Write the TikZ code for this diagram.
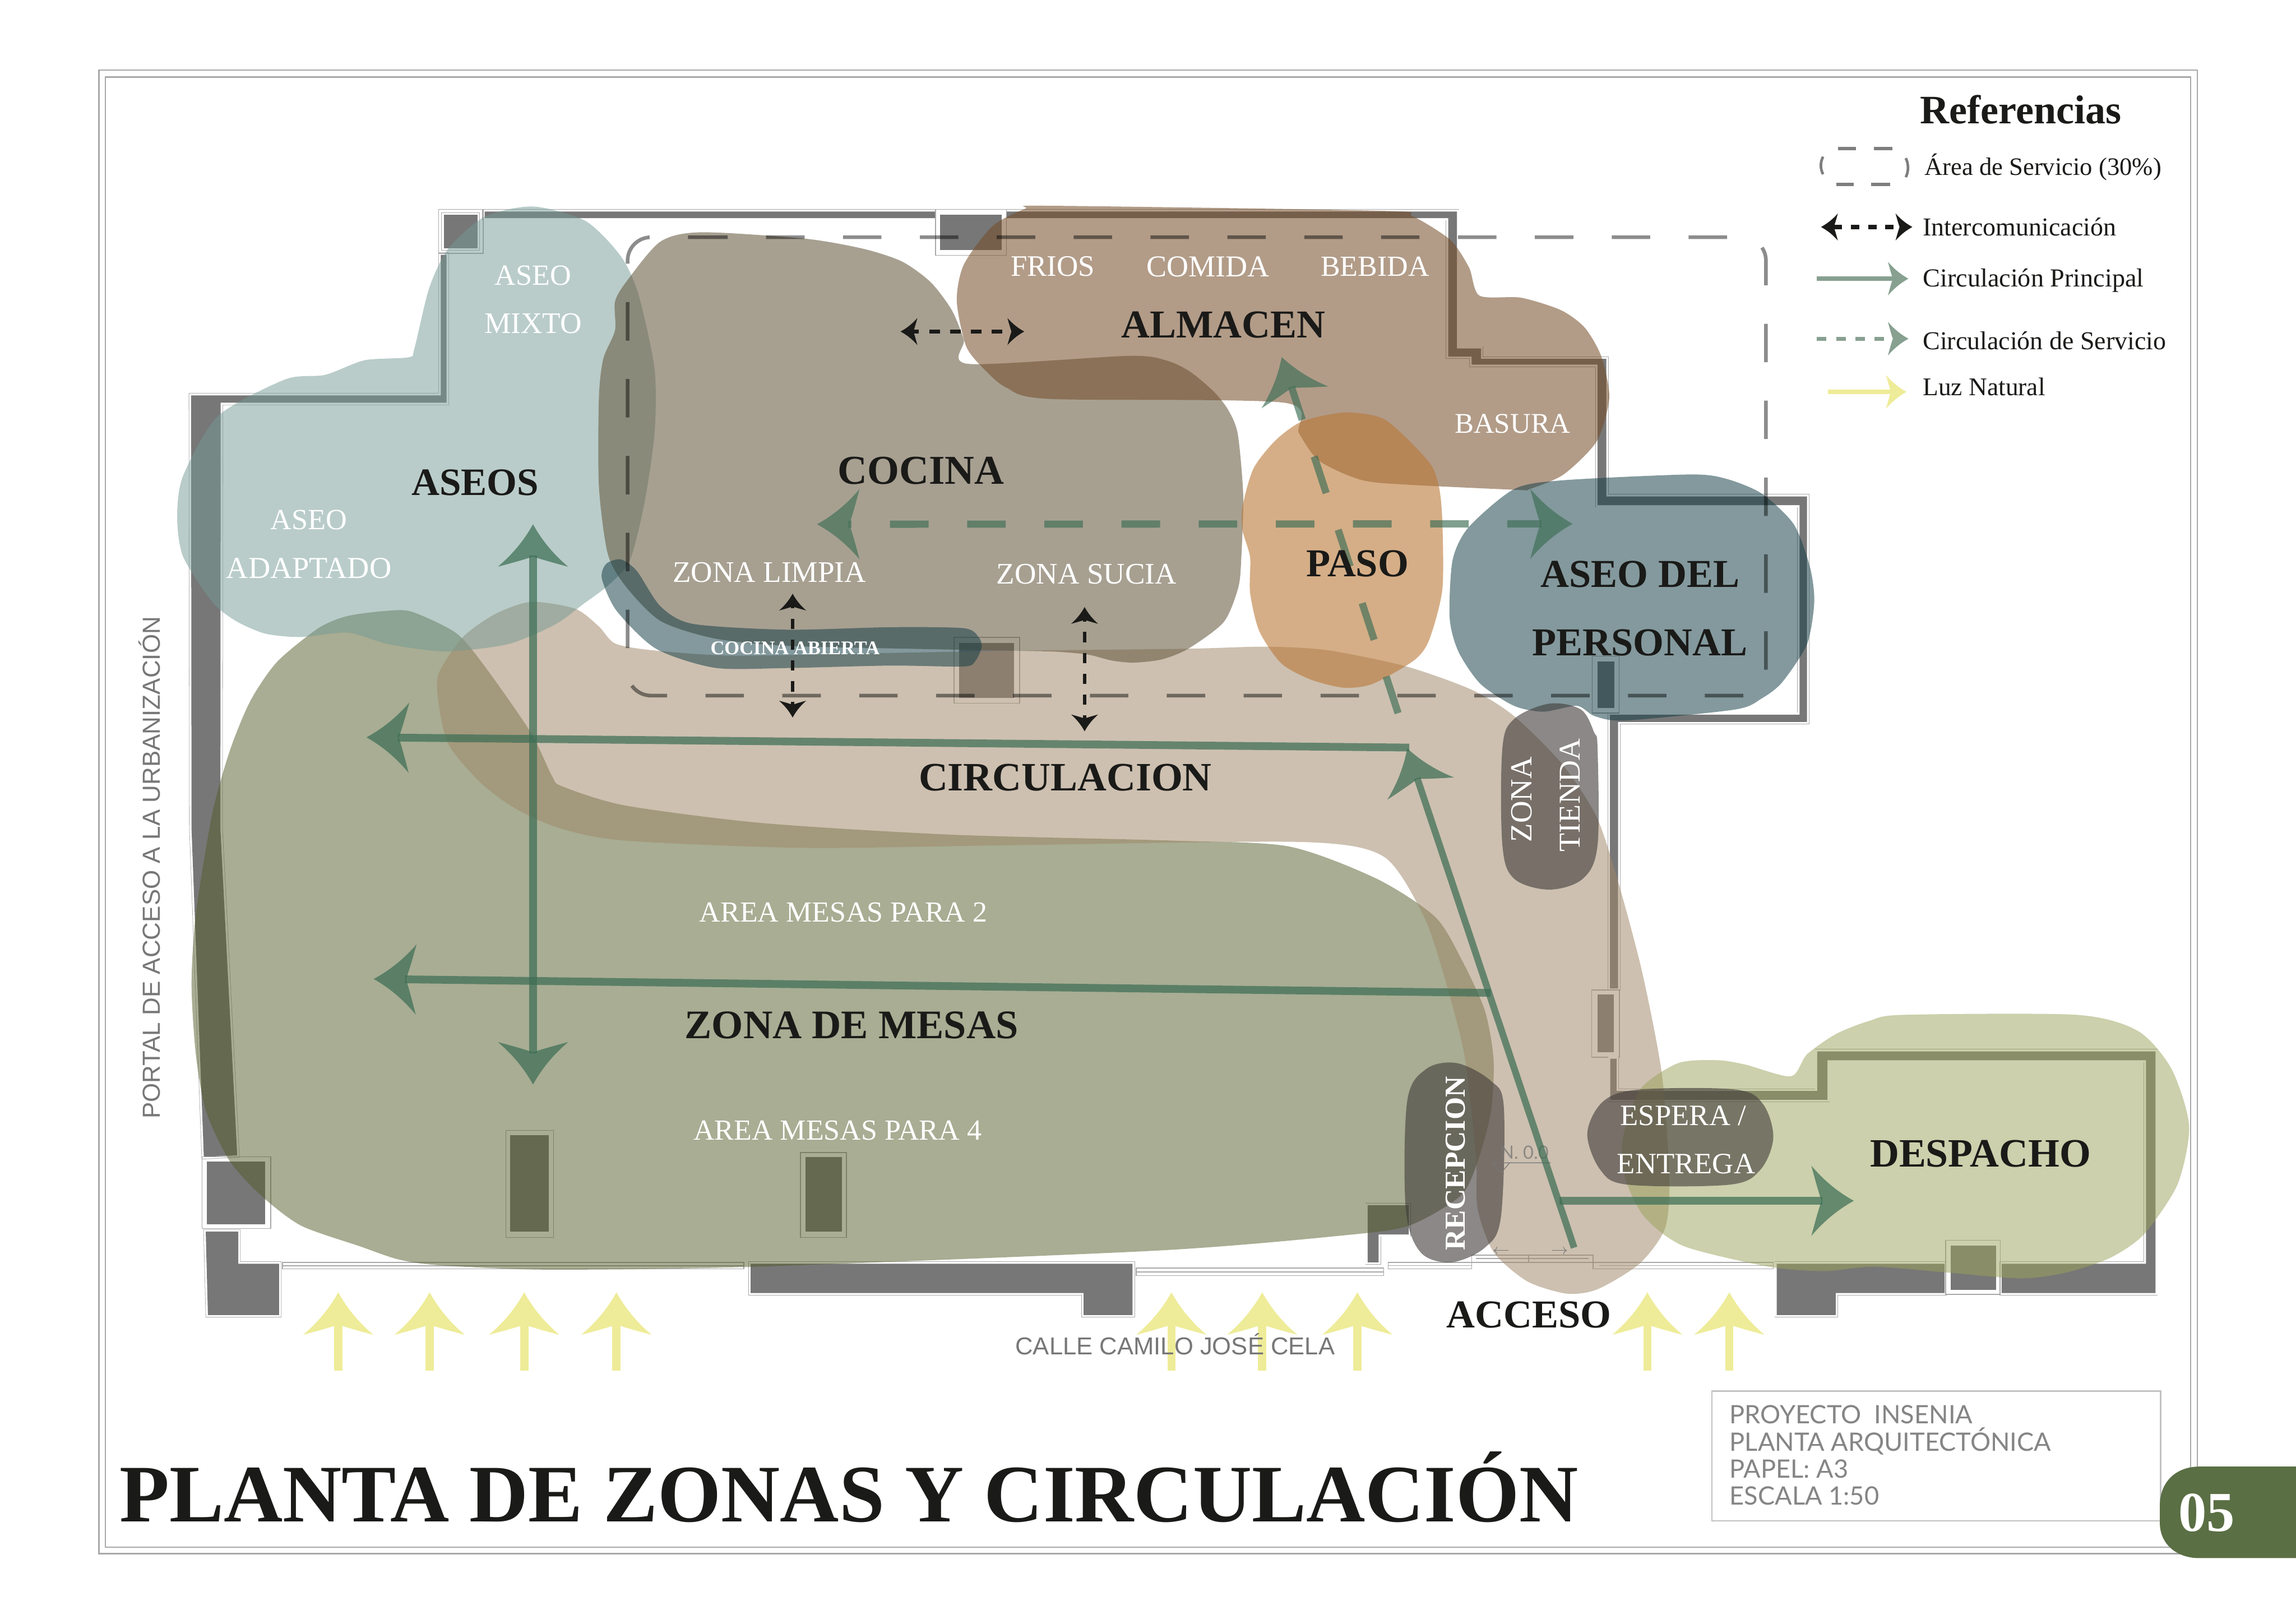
\documentclass[tikz,border=0pt]{standalone}
\usepackage{fontspec}
\setmainfont{Liberation Serif}
\newfontfamily\grotesk{Liberation Sans}
\newfontfamily\thinsans{Lato}
\usetikzlibrary{arrows.meta}
\newcommand{\sz}[1]{\fontsize{#1}{#1}\selectfont}
\definecolor{ink}{HTML}{1A1A18}
\definecolor{wallgray}{HTML}{777777}
\definecolor{hairgray}{HTML}{A8A8A8}
\definecolor{flowgreen}{HTML}{3D6E55}
\definecolor{legendgreen}{HTML}{87A090}
\definecolor{sunyellow}{HTML}{EEEC98}
\definecolor{zAseo}{HTML}{749A94}
\definecolor{zMesa}{HTML}{525C28}
\definecolor{zCocina}{HTML}{685C42}
\definecolor{zAlmacen}{HTML}{744C28}
\definecolor{zPaso}{HTML}{B97837}
\definecolor{zPersonal}{HTML}{133C45}
\definecolor{zCirc}{HTML}{A08868}
\definecolor{zDespacho}{HTML}{9BA35A}
\definecolor{zDark}{HTML}{3F3A38}
\definecolor{tabgreen}{HTML}{5A6F44}
\pgfdeclarearrow{
  name=Swept,
  parameters={\the\pgfarrowlength,\the\pgfarrowwidth},
  setup code={%
    \pgfarrowssettipend{0pt}%
    \pgfarrowssetlineend{-.74\pgfarrowlength}%
    \pgfarrowssetbackend{-\pgfarrowlength}%
    \pgfarrowssetvisualbackend{-.74\pgfarrowlength}%
    \pgfarrowssavethe\pgfarrowlength
    \pgfarrowssavethe\pgfarrowwidth
  },
  drawing code={%
    \pgfpathmoveto{\pgfqpoint{0pt}{0pt}}%
    \pgfpathcurveto{\pgfqpoint{-.3\pgfarrowlength}{.1\pgfarrowwidth}}{\pgfqpoint{-.65\pgfarrowlength}{.25\pgfarrowwidth}}{\pgfqpoint{-\pgfarrowlength}{.5\pgfarrowwidth}}%
    \pgfpathcurveto{\pgfqpoint{-.92\pgfarrowlength}{.32\pgfarrowwidth}}{\pgfqpoint{-.83\pgfarrowlength}{.12\pgfarrowwidth}}{\pgfqpoint{-.76\pgfarrowlength}{0pt}}%
    \pgfpathcurveto{\pgfqpoint{-.83\pgfarrowlength}{-.12\pgfarrowwidth}}{\pgfqpoint{-.92\pgfarrowlength}{-.32\pgfarrowwidth}}{\pgfqpoint{-\pgfarrowlength}{-.5\pgfarrowwidth}}%
    \pgfpathcurveto{\pgfqpoint{-.65\pgfarrowlength}{-.25\pgfarrowwidth}}{\pgfqpoint{-.3\pgfarrowlength}{-.1\pgfarrowwidth}}{\pgfqpoint{0pt}{0pt}}%
    \pgfpathclose\pgfusepathqfill
  },
  defaults={length=29pt,width=48pt}
}
\tikzset{
  bighead/.style={>={Swept[length=29pt,width=48pt]}},
  smallhead/.style={>={Swept[length=14pt,width=23pt]}},
  blackhead/.style={>={Swept[length=11.5pt,width=18.5pt]}},
  mainflow/.style={bighead,draw=flowgreen,line width=5.3pt,opacity=.72},
  serviceflow/.style={bighead,draw=flowgreen,line width=4.9pt,opacity=.66,dash pattern=on 26.35pt off 26.35pt},
  intercom/.style={blackhead,draw=ink,line width=2.6pt,dash pattern=on 7.1pt off 7.1pt},
  sunray/.style={bighead,draw=sunyellow,line width=5.6pt},
  wall/.style={preaction={draw=hairgray,line width=3.2pt},preaction={draw=white,line width=2.6pt},fill=wallgray},
  glaze/.style={draw=hairgray,line width=.6pt},
  zone/.style 2 args={fill=#1,fill opacity=#2},
  blk/.style={text=ink,inner sep=0pt,font=\bfseries\sz{#1}},
  wht/.style={text=white,inner sep=0pt,font=\sz{#1}},
  whb/.style={text=white,inner sep=0pt,font=\bfseries\sz{#1}},
  legendtext/.style={text=ink,inner sep=0pt,anchor=west,font=\sz{#1}},
  gsans/.style={text=wallgray,inner sep=0pt,font=\grotesk\sz{#1}},
  infotext/.style={text=black!48,inner sep=0pt,anchor=west,font=\thinsans\sz{17.3}},
}
\begin{document}
\begin{tikzpicture}[x=1pt,y=-1pt,line join=miter]
\useasboundingbox (0,0) rectangle (1568,1108.7);
\fill[white] (0,0) rectangle (1568,1108.7);
% sheet frame
\draw[hairgray,line width=.9pt] (67.5,47.8) rectangle (1500.5,1061);
\draw[hairgray,line width=.9pt] (72,52.6) rectangle (1496,1056.5);
% ---- walls
\path[wall] (331,144.5)--(995,144.5)--(995,238)--(1011.4,238)--(1011.4,245)--(1097,245)--(1097,339)--(1234,339)--(1234,493)--(1105,493)--(1105,675)--(1099.5,675)--(1099.5,488)--(1229,488)--(1229,345)--(1091,345)--(1091,249)--(1005,249)--(1005,243.5)--(989,243.5)--(989,149)--(331,149)--cycle;
\fill[white] (638.9,141) rectangle (687.3,174.4);
\draw[glaze] (638.9,143) rectangle (687.3,174.4);
\fill[wallgray] (642,146.6) rectangle (684,170.8);
\path[wall] (303,146.7) rectangle (326,169.5);
\path[wall] (301,174)--(305,174)--(305,275)--(150.7,275)--(150.5,566)--(162,789)--(139.2,790)--(130.8,566)--(130.5,270)--(301,270)--cycle;
\draw[glaze] (299.5,143) rectangle (330,173);
\draw[glaze] (138,790) rectangle (185,839);
\fill[wallgray] (141.4,793) rectangle (181.2,836);
\path[wall] (140.5,841)--(162.7,841)--(162.7,863)--(190.6,863)--(190.6,898)--(142,898)--cycle;
\draw[glaze] (345.5,772) rectangle (378,845);
\fill[wallgray] (348.4,775) rectangle (374.7,841);
\draw[glaze] (546.6,787) rectangle (578,845);
\fill[wallgray] (550,790) rectangle (575,841);
\path[wall] (512.6,863)--(773.4,863)--(773.4,898)--(740,898)--(740,883)--(512.6,883)--cycle;
\draw[glaze] (651.6,435.2) rectangle (696.4,480.2);
\fill[wallgray] (654.8,439) rectangle (692.5,476.5);
\draw[glaze] (1087.4,448) rectangle (1105.7,487);
\fill[wallgray] (1091,451.7) rectangle (1102.4,483.4);
\draw[glaze] (1087,676) rectangle (1106,722);
\fill[wallgray] (1091,679) rectangle (1102,718.5);
\path[wall] (1099.7,723)--(1104,723)--(1104,745)--(1241,745)--(1241,718)--(1472,718)--(1472,883)--(1367,883)--(1367,863)--(1465.5,863)--(1465.5,724)--(1248,724)--(1248,751)--(1099.7,751)--cycle;
\path[wall] (934,823)--(962,823)--(962,843)--(941.5,843)--(941.5,862)--(934,862)--cycle;
\path[wall] (1213.4,863)--(1328,863)--(1328,883)--(1253.6,883)--(1253.6,898)--(1213.4,898)--cycle;
\draw[glaze] (1328.7,847) rectangle (1366,884);
\fill[wallgray] (1332,850.6) rectangle (1363,881);
% glazing and door
\draw[glaze] (193,862) rectangle (508,866.5) (193,864.3)--(508,864.3);
\draw[glaze] (776,866) rectangle (945,871) (776,868.5)--(945,868.5);
\draw[glaze] (948,862) rectangle (1005,866.5) (948,864.2)--(1005,864.2);
\draw[glaze] (1005,857) rectangle (1088,862) (1044,857)--(1044,862) (1008,859.5)--(1085,859.5);
\draw[glaze] (1088,862) rectangle (1211,866.5) (1092,864.2)--(1211,864.2);
% ---- zones
\fill[zone={zMesa}{.5}] plot[smooth cycle,tension=.45] coordinates {(265.8,417)(282,418)(312,432.7)(332.4,456.9)(362.6,500.4)(377,530)(384,537)(426.7,550)(520,562)(650,570)(800,574)(880,578)(940,600)(980,626)(998,655)(1014,690)(1020,724)(1018,760)(1008.5,795)(997,817)(962,837)(916.6,843.7)(790,854)(516,865)(374,867)(300,864)(272,860)(245.6,851)(205.7,837)(179,817)(157,793)(140.8,759)(133.8,720.5)(130.8,672)(133.8,623.8)(144.9,556)(157,512.5)(171,478.6)(189.2,452)(217.4,429)(237.6,420.6)};
\fill[zone={zCirc}{.52}] plot[smooth cycle,tension=.45] coordinates {(362.6,411)(392.8,415.7)(409,427.8)(420,439.4)(445,444)(500,447.7)(600,446)(692,444.4)(811,443)(864,441.6)(906.4,444)(960,455)(1005,471)(1034,489)(1067,522)(1090.4,558)(1105,602)(1121.5,664)(1135,734)(1140,805)(1137,839)(1119.6,863)(1091,880.4)(1070,883.4)(1043,875)(1020,855)(1009,825)(1008,790)(1000,720)(985.5,664)(972,625)(945,585)(890,575)(700,577)(550,579)(426.7,574)(382.8,565.7)(352.5,552.4)(328,534.3)(306,507.7)(299,476)(300,459)(316.2,435)(338,419.4)};
\fill[zone={zAseo}{.5}] plot[smooth cycle,tension=.45] coordinates {(364,141)(400,151)(424,175)(436,201)(447,252)(447,296)(440,344)(430,383)(415,400)(399,412)(378.8,426.6)(346.5,440)(304,444.8)(265.8,440)(237.6,432)(205.4,435)(181.2,432.7)(161,424)(144.9,411)(125,380)(121,353)(125,325)(149,284)(195,259)(222,256)(249,246)(279,244)(283,238)(293,197)(306,170)(331,148)};
\fill[zone={zCocina}{.58}] plot[smooth cycle,tension=.45] coordinates {(479,158.6)(550,163)(590,170)(616,178.6)(635.6,192.7)(650,211.8)(658.2,232)(661.4,248.5)(771,243)(797,246.3)(813,254)(829,267.5)(838.8,280)(845.3,296.4)(849,338)(847.8,379)(845.7,401)(835.7,424.8)(811.5,443)(793.3,450.3)(774,452.5)(759,451)(743,447)(720.8,445)(692.5,444.4)(620,443)(537,441)(488,436)(451,424)(427,400)(415,378)(409,332)(409,271.5)(412,245)(420,225.6)(420,206)(428,192)(451,165)};
\fill[zone={zAlmacen}{.55}] plot[smooth cycle,tension=.45] coordinates {(716.3,140.5)(945.3,144)(964.6,147.6)(990.4,163.8)(1003.3,182.8)(1010.4,201.9)(1038.8,203.3)(1066,211.8)(1082.3,223.8)(1093.6,243.5)(1099,271.7)(1090.4,301.4)(1067.8,324)(1045,333.8)(1035.6,334.5)(945.3,330)(922.7,325.4)(900,314)(887,295.7)(877,275)(716.3,272.4)(687.3,264.7)(672.7,252.7)(659.8,236.5)(653.4,205.4)(658.2,180.7)(677.6,154.6)(700,142.6)};
\fill[zone={zPaso}{.6}] plot[smooth cycle,tension=.45] coordinates {(918.4,281.7)(946,286.7)(975.5,315)(982.6,332)(985,356)(985,402.6)(976,437)(965.6,451)(937.4,467)(917.6,469.6)(895,464)(875,453)(860,431)(853.7,404.7)(853.7,380.5)(848.5,362)(848.5,346)(856,320)(871,300.8)(889.4,287.7)};
\fill[zone={zPersonal}{.52}] plot[smooth cycle,tension=.45] coordinates {(1154,324)(1179,327)(1203,337)(1225,358)(1236,387)(1239,411)(1234,440)(1217,466)(1203,477)(1185,484.5)(1110,492)(1089,489)(1077,482)(1054,486)(1034,482)(1011,467)(996,445)(990,422)(992,382.5)(1003,360)(1034,334)(1067,328)};
\fill[zone={zPersonal}{.52}] plot[smooth cycle,tension=.45] coordinates {(424,382)(435,390)(451,414)(473,426)(537,430)(607.9,428.3)(658.3,429)(668.4,435.2)(670.4,441.8)(666.3,451)(658.3,455.1)(607.9,454.5)(537,456.2)(488,456)(448,443)(421,417)(411,395)(414,385)};
\fill[zone={zDespacho}{.5}] plot[smooth cycle,tension=.45] coordinates {(1300,693)(1418,693)(1460,704)(1483,730)(1495,769)(1487,809)(1464,843)(1441,859)(1411,869)(1380,873)(1330,869)(1280,865)(1246,868)(1208,865)(1150,851)(1123,831)(1110,805)(1108,779)(1120,744)(1146,726)(1173,724)(1192,727)(1223,735)(1234,720)(1254,706)(1277,697)};
\fill[zone={zDark}{.6}] plot[smooth cycle,tension=.55] coordinates {(995,726)(1018,738)(1027,756)(1025,831)(1014,852)(991,862)(970,855)(960,825)(961,752)(974,730)};
\fill[zone={zDark}{.6}] plot[smooth cycle,tension=.55] coordinates {(1120,744)(1185,744)(1204,754)(1211,777)(1202,799)(1181,809)(1112,809)(1093,799)(1084,774)(1095,752)};
\fill[zone={zDark}{.6}] plot[smooth cycle,tension=.55] coordinates {(1058,480.5)(1079.6,484.5)(1088.6,500)(1091,511)(1091,577)(1081,600)(1058,607.5)(1034,600)(1026,577)(1026,511)(1034,491)};
% service-area dashed outline
\draw[black,opacity=.45,line width=2.5pt,dash pattern=on 26.25pt off 26.25pt,rounded corners=16pt] (470.7,162)--(1206,162)--(1206,475)--(428.6,475)--(428.6,162)--(470.7,162);
% level mark
\draw[wallgray,line width=.5pt] (1019,794)--(1059,794) (1019,794)--(1025,801)--(1031,794);
\node[text=wallgray,opacity=.75,inner sep=0pt,font=\thinsans\sz{12.5}] (nivel) at (1041,787) {N. 0.0};
\draw[wallgray,line width=.4pt,->] (1030,854)--(1020,854);
\draw[wallgray,line width=.4pt,->] (1060,854)--(1070,854);
% ---- flow connectors
\coordinate (vTop) at (364,358); \coordinate (vBot) at (364,740.6);
\coordinate (c1R) at (962.4,510.5); \coordinate (c1L) at (250.3,503.5);
\coordinate (c2R) at (1018,678); \coordinate (c2L) at (255.2,668.5);
\coordinate (dIn) at (1075,852); \coordinate (dTip) at (961,511);
\coordinate (oS) at (1065,820); \coordinate (oE) at (1266,820);
\coordinate (sL) at (558,358); \coordinate (sR) at (1074,357.7);
\coordinate (pB) at (954.8,487); \coordinate (pT) at (875.3,243.8);
\draw[mainflow,<->] (vTop)--(vBot);
\draw[mainflow,->] (c1R)--(c1L);
\draw[mainflow,->] (c2R)--(c2L);
\draw[mainflow,line width=4.6pt,->] (dIn)--(dTip);
\draw[mainflow,->] (oS)--(oE);
\draw[serviceflow,<->,dash phase=3.2pt] (sR)--(sL);
\draw[serviceflow,->] (pB)--(pT);
\coordinate (i1a) at (615,226.4); \coordinate (i1b) at (699.5,226.4);
\coordinate (i2a) at (541.3,405.4); \coordinate (i2b) at (541.3,490);
\coordinate (i3a) at (740.7,414.5); \coordinate (i3b) at (740.7,499.4);
\draw[intercom,<->,dash phase=3pt] (i1a)--(i1b);
\draw[intercom,<->,dash phase=5.6pt] (i2a)--(i2b);
\draw[intercom,<->,dash phase=5.6pt] (i3a)--(i3b);
% ---- natural light
\foreach \n/\xa in {a/231,b/293.4,c/358,d/421,e/800,f/862,g/927,h/1125,i/1181}{
  \coordinate (sun\n0) at (\xa,936); \coordinate (sun\n1) at (\xa,882.5);
  \draw[sunray,->] (sun\n0)--(sun\n1);
}
% ---- legend
\draw[hairgray!75!black,line width=2.5pt] (1255.4,101.5)--(1267.6,101.5) (1279.8,101.5)--(1292.4,101.5) (1254,125.9)--(1266,125.9) (1278,125.9)--(1290.7,125.9);
\draw[hairgray!75!black,line width=1.8pt] (1245,107) .. controls (1243,111) and (1243,115) .. (1245,119) (1301.5,108) .. controls (1303.5,112) and (1303.5,117) .. (1301.5,121);
\coordinate (l2a) at (1243.6,155); \coordinate (l2b) at (1306,155);
\draw[intercom,line width=3pt,dash pattern=on 5.8pt off 6pt,<->] (l2a)--(l2b);
\coordinate (l3a) at (1240.8,190.3); \coordinate (l3b) at (1303.3,190.3);
\draw[smallhead,draw=legendgreen,line width=2.8pt,->] (l3a)--(l3b);
\coordinate (l4a) at (1240.8,231.3); \coordinate (l4b) at (1303.3,231.3);
\draw[smallhead,draw=legendgreen,line width=2.8pt,dash pattern=on 6.5pt off 6.6pt,->] (l4a)--(l4b);
\coordinate (l5a) at (1248.5,267.6); \coordinate (l5b) at (1302,267.6);
\draw[smallhead,draw=sunyellow,line width=2.8pt,->] (l5a)--(l5b);
\node[blk=27.6] (refs) at (1380,75) {Referencias};
\node[legendtext=17.1] (t1) at (1314,114) {Área de Servicio (30\%)};
\node[legendtext=17.6] (t2) at (1313,155) {Intercomunicación};
\node[legendtext=17.7] (t3) at (1313,191.5) {Circulación Principal};
\node[legendtext=17.6] (t4) at (1313,232.5) {Circulación de Servicio};
\node[legendtext=17.4] (t5) at (1313,264) {Luz Natural};
% ---- zone labels
\node[blk=26.5] (lAseos) at (324.5,329.5) {ASEOS};
\node[blk=28] (lCocina) at (629,321.5) {COCINA};
\node[blk=27] (lAlmacen) at (835.5,222) {ALMACEN};
\node[blk=27] (lPaso) at (927,385) {PASO};
\node[blk=27] (lPers1) at (1120,392) {ASEO DEL};
\node[blk=27] (lPers2) at (1120,439) {PERSONAL};
\node[blk=27.5] (lCirc) at (727.5,531) {CIRCULACION};
\node[blk=27.7] (lMesas) at (581.5,700) {ZONA DE MESAS};
\node[blk=27.5] (lDesp) at (1352.5,788) {DESPACHO};
\node[blk=27] (lAcc) at (1044,898) {ACCESO};
\node[wht=20] (a1) at (364,188) {ASEO};
\node[wht=20.4] (a2) at (364,221) {MIXTO};
\node[wht=20] (a3) at (211,355) {ASEO};
\node[wht=20.8] (a4) at (211,388) {ADAPTADO};
\node[wht=20.3] (b1) at (719,182) {FRIOS};
\node[wht=20.7] (b2) at (825,182) {COMIDA};
\node[wht=19.9] (b3) at (939,182) {BEBIDA};
\node[wht=19.5] (b4) at (1033,289.5) {BASURA};
\node[wht=20.4] (c1) at (525.5,391) {ZONA LIMPIA};
\node[wht=20.4] (c2) at (742,392) {ZONA SUCIA};
\node[whb=13.2] (c3) at (543,442.5) {COCINA ABIERTA};
\node[wht=19.9] (m1) at (576,623) {AREA MESAS PARA 2};
\node[wht=19.9] (m2) at (572,772) {AREA MESAS PARA 4};
\node[wht=20.2] (e1) at (1149.5,762) {ESPERA /};
\node[wht=20.2] (e2) at (1151.5,795) {ENTREGA};
\node[whb=19.8,rotate=90] (r1) at (994,794.5) {RECEPCION};
\node[wht=21,rotate=90] (z1) at (1039,546) {ZONA};
\node[wht=20.7,rotate=90] (z2) at (1072,543) {TIENDA};
% ---- street texts
\node[gsans=16.85,rotate=90] (portal) at (102,592.5) {PORTAL DE ACCESO A LA URBANIZACIÓN};
\node[gsans=16.7] (calle) at (802.5,918) {CALLE CAMILO JOSÉ CELA};
% ---- title block
\node[blk=55.75,anchor=base west] (title) at (81.5,1039) {PLANTA DE ZONAS Y CIRCULACIÓN};
\draw[hairgray!70,line width=.9pt] (1169,950) rectangle (1475.5,1038.5);
\node[infotext] (p1) at (1181,966) {PROYECTO\ \ INSENIA};
\node[infotext] (p2) at (1181,984) {PLANTA ARQUITECTÓNICA};
\node[infotext] (p3) at (1181,1003) {PAPEL: A3};
\node[infotext] (p4) at (1181,1021.5) {ESCALA 1:50};
\fill[tabgreen] (1568,1001.5)--(1502,1001.5) .. controls (1486,1001.5) and (1475,1012) .. (1475,1028)--(1475,1040) .. controls (1475,1054) and (1486,1064) .. (1502,1064)--(1568,1064)--cycle;
\node[whb=38.5] (pg) at (1507,1033) {05};
\end{tikzpicture}
\end{document}
